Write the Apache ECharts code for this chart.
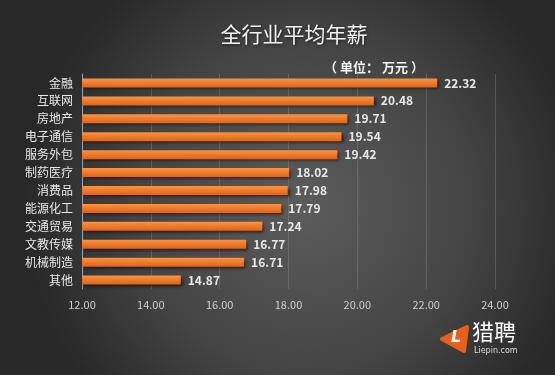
<!DOCTYPE html>
<html>
<head>
<meta charset="utf-8">
<script src="https://cdn.jsdelivr.net/npm/echarts@6/dist/echarts.min.js"></script>
<style>
  html, body { margin: 0; padding: 0; background: #333; }
  #main { width: 555px; height: 375px; }
</style>
</head>
<body>
<div id="main"></div>
<script>
// 行业 & 平均年薪（万元）
var industries = ['金融', '互联网', '房地产', '电子通信', '服务外包', '制药医疗', '消费品', '能源化工', '交通贸易', '文教传媒', '机械制造', '其他']
var salaries = [22.32, 20.48, 19.71, 19.54, 19.42, 18.02, 17.98, 17.79, 17.24, 16.77, 16.71, 14.87]
var axisMin = 12
var axisMax = 24
var axisStep = 2

var myChart = echarts.init(document.getElementById('main'))

var option = {
  backgroundColor: {
    type: 'radial',
    x: 0.55,
    y: 0.55,
    r: 0.75,
    colorStops: [
      { offset: 0, color: '#5c5c5c' },
      { offset: 0.6, color: '#444444' },
      { offset: 1, color: '#282828' }
    ]
  },
  title: [
    {
      text: '全行业平均年薪',
      left: 289,
      top: 19,
      textAlign: 'center',
      textStyle: {
        color: '#f2f2f2',
        fontSize: 21,
        fontWeight: 'normal',
        fontFamily: 'Noto Sans CJK SC',
        textShadowColor: 'rgba(0,0,0,0.6)',
        textShadowBlur: 3,
        textShadowOffsetX: 1,
        textShadowOffsetY: 1
      }
    },
    {
      text: '（ 单位： 万元 ）',
      left: 369,
      top: 56,
      textAlign: 'center',
      textStyle: {
        color: '#f2f2f2',
        fontSize: 13,
        fontWeight: 'bold',
        fontFamily: 'Noto Sans CJK SC'
      }
    }
  ],
  grid: {
    left: 82,
    right: 60,
    top: 74,
    bottom: 86
  },
  xAxis: {
    type: 'value',
    min: axisMin,
    max: axisMax,
    interval: axisStep,
    axisLine: { show: false },
    axisTick: { show: false },
    axisLabel: {
      color: '#d0d0d0',
      fontSize: 11,
      fontFamily: 'Noto Sans CJK SC',
      margin: 10,
      formatter: function (v) { return v.toFixed(2) }
    },
    splitLine: {
      show: true,
      lineStyle: { color: 'rgba(150,150,150,0.35)', width: 1 }
    }
  },
  yAxis: {
    type: 'category',
    inverse: true,
    data: industries,
    axisLine: {
      show: true,
      lineStyle: { color: '#8fa6c0', width: 1 }
    },
    axisTick: { show: false },
    axisLabel: {
      color: '#e8e8e8',
      fontSize: 12,
      fontFamily: 'Noto Sans CJK SC',
      margin: 9
    }
  },
  series: [
    {
      type: 'bar',
      data: salaries,
      barWidth: 9,
      itemStyle: {
        color: {
          type: 'linear',
          x: 0, y: 0, x2: 0, y2: 1,
          colorStops: [
            { offset: 0, color: '#f79646' },
            { offset: 0.5, color: '#ee7a2c' },
            { offset: 1, color: '#d9661c' }
          ]
        },
        shadowColor: 'rgba(0,0,0,0.6)',
        shadowBlur: 3,
        shadowOffsetX: 2,
        shadowOffsetY: 2
      },
      label: {
        show: true,
        position: 'right',
        distance: 7,
        color: '#e8e8e8',
        fontSize: 12,
        fontWeight: 'bold',
        fontFamily: 'Noto Sans CJK SC',
        formatter: function (p) { return p.value.toFixed(2) }
      }
    }
  ],
  graphic: [
    {
      type: 'polygon',
      shape: { points: [[442, 339], [467, 327], [464, 351]] },
      style: { fill: '#e8601c', lineJoin: 'round', stroke: '#e8601c', lineWidth: 4 }
    },
    {
      type: 'text',
      left: 451,
      top: 330,
      style: { text: 'L', fill: '#ffffff', fontSize: 16, fontWeight: 'bold', fontStyle: 'italic', fontFamily: 'DejaVu Sans' }
    },
    {
      type: 'text',
      left: 472,
      top: 321,
      style: { text: '猎聘', fill: '#ffffff', fontSize: 22, fontFamily: 'Noto Sans CJK SC' }
    },
    {
      type: 'text',
      left: 474,
      top: 347,
      style: { text: 'Liepin.com', fill: '#dddddd', fontSize: 8, fontFamily: 'DejaVu Sans' }
    }
  ]
}
myChart.setOption(option)
</script>
</body>
</html>
